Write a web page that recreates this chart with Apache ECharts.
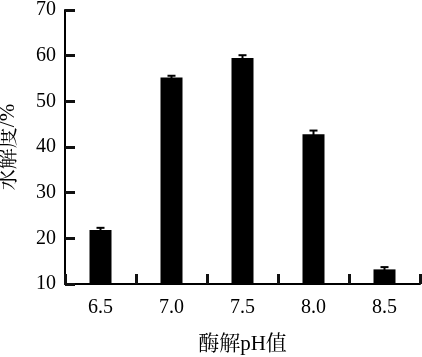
<!DOCTYPE html>
<html><head><meta charset="utf-8">
<script src="https://cdn.jsdelivr.net/npm/echarts@6/dist/echarts.min.js"></script>
<style>html,body{margin:0;padding:0;background:#fff}#c{width:422px;height:357px}</style>
</head><body><div id="c"></div>
<script>
var categories = ['6.5', '7.0', '7.5', '8.0', '8.5'];
var values = [21.8, 55.2, 59.5, 42.8, 13.2];
var errors = [0.5, 0.4, 0.6, 0.8, 0.5];
var yTicks = [10, 20, 30, 40, 50, 60, 70];

var font = '"Liberation Serif", "Noto Serif CJK SC", "Noto Sans CJK SC", serif';
var chart = echarts.init(document.getElementById('c'), null, { renderer: 'canvas' });
var errData = categories.map(function (c, i) { return [i, values[i] - errors[i], values[i] + errors[i]]; });
chart.setOption({
  animation: false,
  grid: { left: 65, right: 2, top: 10, bottom: 73, containLabel: false, outerBoundsMode: 'none' },
  xAxis: {
    type: 'category', data: categories, boundaryGap: true,
    name: '酶解pH值', nameLocation: 'middle', nameGap: 50,
    nameTextStyle: { fontFamily: font, fontSize: 21, color: '#000' },
    axisLine: { show: true, lineStyle: { color: '#000', width: 2 } },
    axisTick: { show: true, inside: true, length: 10, interval: 0, lineStyle: { color: '#111', width: 3 } },
    axisLabel: { fontFamily: font, fontSize: 20, color: '#000', margin: 14 }
  },
  yAxis: {
    type: 'value', min: yTicks[0], max: yTicks[yTicks.length - 1], interval: 10,
    name: '水解度/%', nameLocation: 'middle', nameGap: 46, nameRotate: 90,
    nameTextStyle: { fontFamily: font, fontSize: 21, color: '#000' },
    axisLine: { show: true, lineStyle: { color: '#000', width: 2 } },
    axisTick: { show: true, inside: true, length: 10, lineStyle: { color: '#111', width: 3 } },
    axisLabel: { fontFamily: font, fontSize: 20, color: '#000', margin: 9 },
    splitLine: { show: false }
  },
  series: [{
    type: 'bar', data: values, barWidth: 22,
    itemStyle: { color: '#000' }
  }, {
    type: 'custom', data: errData, z: 3,
    renderItem: function (params, api) {
      var x = api.value(0);
      var lo = api.coord([x, api.value(1)]);
      var hi = api.coord([x, api.value(2)]);
      var w = 4;
      var st = { stroke: '#000', lineWidth: 2 };
      return { type: 'group', children: [
        { type: 'line', shape: { x1: hi[0], y1: hi[1], x2: lo[0], y2: lo[1] }, style: st },
        { type: 'line', shape: { x1: hi[0] - w, y1: hi[1], x2: hi[0] + w, y2: hi[1] }, style: st },
        { type: 'line', shape: { x1: lo[0] - w, y1: lo[1], x2: lo[0] + w, y2: lo[1] }, style: st }
      ]};
    }
  }]
});
</script></body></html>
